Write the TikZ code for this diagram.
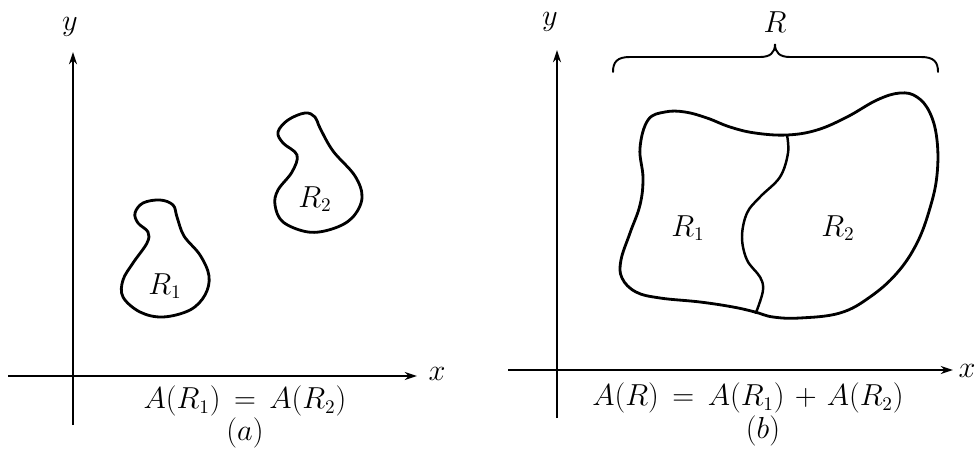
\documentclass[tikz,border=0pt]{standalone}
\usetikzlibrary{arrows.meta}
\begin{document}
\begin{tikzpicture}[x=0.02cm,y=-0.02cm,
  axis/.style={line width=0.9pt,-{Stealth[length=7pt,width=4.6pt]}},
  region/.style={line width=1.6pt,line join=round},
  lab/.style={inner sep=0pt,font=\fontsize{16}{19}\selectfont},
  every node/.style={inner sep=0pt}]
\useasboundingbox (0,0) rectangle (977,449);
% ---------- panel (a) ----------
\coordinate (ay0) at (73,425);
\coordinate (ay1) at (73,52);
\coordinate (ax0) at (8,376);
\coordinate (ax1) at (417,376);
\draw[axis] (ay0) -- (ay1);
\draw[axis] (ax0) -- (ax1);
\node[lab] (axl) at (437,374) {$x$};
\node[lab] (ayl) at (70,27) {$y$};
\draw[region] plot[smooth cycle,tension=0.6] coordinates{
 (160,200) (173,205) (177,217) (184,236) (200,255) (209,276) (205,295)
 (190,310) (163,317) (140,312) (123,297) (123,280) (133,263) (147,243)
 (148,232) (138,223) (135,213) (143,203)};
\draw[region] plot[smooth cycle,tension=0.6] coordinates{
 (305,113) (315,117) (320,128) (333,151) (355,176) (362,198) (352,218)
 (332,229) (308,232) (283,222) (275,205) (278,190) (292,172) (297,155)
 (283,143) (278,132) (288,120)};
\node[lab] (ar1) at (165,286) {$R_1$};
\node[lab] (ar2) at (315,199) {$R_2$};
\node[lab] (aeq) at (245,401) {$\thickmuskip=8mu A(R_1) = A(R_2)$};
\node[lab] (acap) at (245,433) {$(a)$};
% ---------- panel (b) ----------
\coordinate (by0) at (557,418);
\coordinate (by1) at (557,50);
\coordinate (bx0) at (508,370);
\coordinate (bx1) at (953,370);
\draw[axis] (by0) -- (by1);
\draw[axis] (bx0) -- (bx1);
\node[lab] (bxl) at (967,371) {$x$};
\node[lab] (byl) at (550,22) {$y$};
\node[lab] (bR) at (775,22) {$R$};
\draw[line width=1.1pt,line cap=round]
  (613,72) .. controls (613,62) and (617,57) .. (630,57)
  -- (760,57) .. controls (770,57) and (775,53) .. (775,44)
  .. controls (775,53) and (780,57) .. (790,57)
  -- (921,57) .. controls (934,57) and (938,62) .. (938,72);
\coordinate (J1) at (787,135);
\coordinate (J2) at (755,312);
\draw[region] plot[smooth cycle,tension=0.65] coordinates{
 (648,120) (665,112) (685,112) (707,118) (730,127) (755,133) (787,135)
 (817,130) (847,117) (877,100) (900,93) (917,97) (930,113) (937,140)
 (937,175) (930,208) (917,243) (897,273) (870,297) (840,313) (800,318)
 (773,317) (755,312) (733,307) (700,302) (660,298) (636,292) (622,278)
 (621,260) (630,233) (640,205) (643,178) (640,148)};
\draw[line width=1.4pt] plot[smooth,tension=0.6] coordinates{
 (787,135) (788,153) (780,177) (760,197) (747,213) (742,237) (747,260)
 (760,277) (763,290) (757,310) (755,312)};
\node[lab] (br1) at (688,228) {$R_1$};
\node[lab] (br2) at (838,228) {$R_2$};
\node[lab] (beq) at (748,398) {$\thickmuskip=8mu\medmuskip=6mu A(R) = A(R_1) + A(R_2)$};
\node[lab] (bcap) at (763,431) {$(b)$};
\end{tikzpicture}
\end{document}
